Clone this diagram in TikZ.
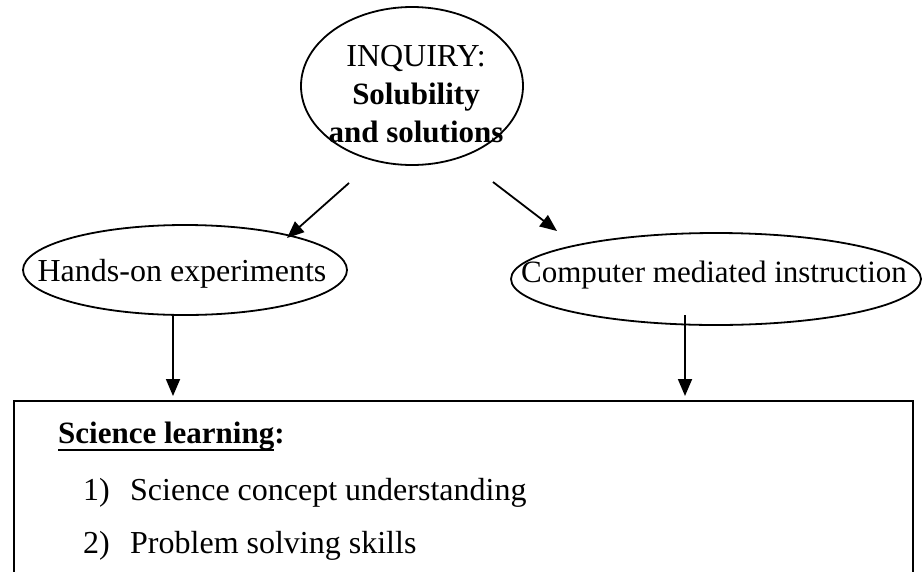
\documentclass[tikz,border=0pt]{standalone}
\usepackage{fontspec}
\setmainfont{Liberation Serif}
\usetikzlibrary{shapes.geometric,arrows.meta}
\newcommand\myul[1]{\setbox0=\hbox{#1}\rlap{\rule[-8pt]{\wd0}{2.2pt}}\box0}
\begin{document}
\begin{tikzpicture}[x=1pt,y=-1pt,
  oval/.style={draw, line width=1.8pt, ellipse, inner sep=0pt},
  txt/.style={font=\fontsize{32}{38}\selectfont, inner sep=0pt},
  bld/.style={font=\fontsize{31}{38}\selectfont\bfseries, inner sep=0pt},
  arr/.style={line width=1.8pt, -{Triangle[length=17pt,width=14pt]}}]
\useasboundingbox (0,0) rectangle (923,571);
\clip (0,0) rectangle (923,571);

% ellipses
\node[oval, minimum width=222pt, minimum height=158pt] (top) at (412,86) {};
\node[txt, align=center] (toptext) at (416,94)
  {INQUIRY:\\ {\fontsize{31}{38}\selectfont\bfseries Solubility}\\ {\fontsize{31}{38}\selectfont\bfseries and solutions}};

\node[oval, minimum width=324pt, minimum height=90pt] (hands) at (185,270) {};
\node[txt, anchor=base] (handstext) at (182,281) {Hands-on experiments};

\node[oval, minimum width=410pt, minimum height=92pt] (cmi) at (716,279) {};
\node[txt, anchor=base, font=\fontsize{31}{38}\selectfont] (cmitext) at (714,282) {Computer mediated instruction};

% box
\node[draw, line width=1.8pt, minimum width=899pt, minimum height=220pt,
      anchor=north west, inner sep=0pt] (box) at (13,400) {};

\node[bld, anchor=base west] (head) at (58,443) {\myul{Science learning}:};
\node[txt, anchor=base west] (n1) at (83,500) {1)};
\node[txt, anchor=base west] (i1) at (130,500) {Science concept understanding};
\node[txt, anchor=base west] (n2) at (83,553) {2)};
\node[txt, anchor=base west] (i2) at (130,553) {Problem solving skills};

% connectors
\coordinate (a1s) at (349,183);
\coordinate (a1e) at (287,238);
\coordinate (a2s) at (493,182);
\coordinate (a2e) at (557,231);
\draw[arr] (a1s) -- (a1e);
\draw[arr] (a2s) -- (a2e);

\coordinate (v1s) at (173,315);
\coordinate (v2s) at (685,315);
\draw[arr, shorten >=4pt] (v1s) -- (v1s |- box.north);
\draw[arr, shorten >=4pt] (v2s) -- (v2s |- box.north);
\end{tikzpicture}
\end{document}
